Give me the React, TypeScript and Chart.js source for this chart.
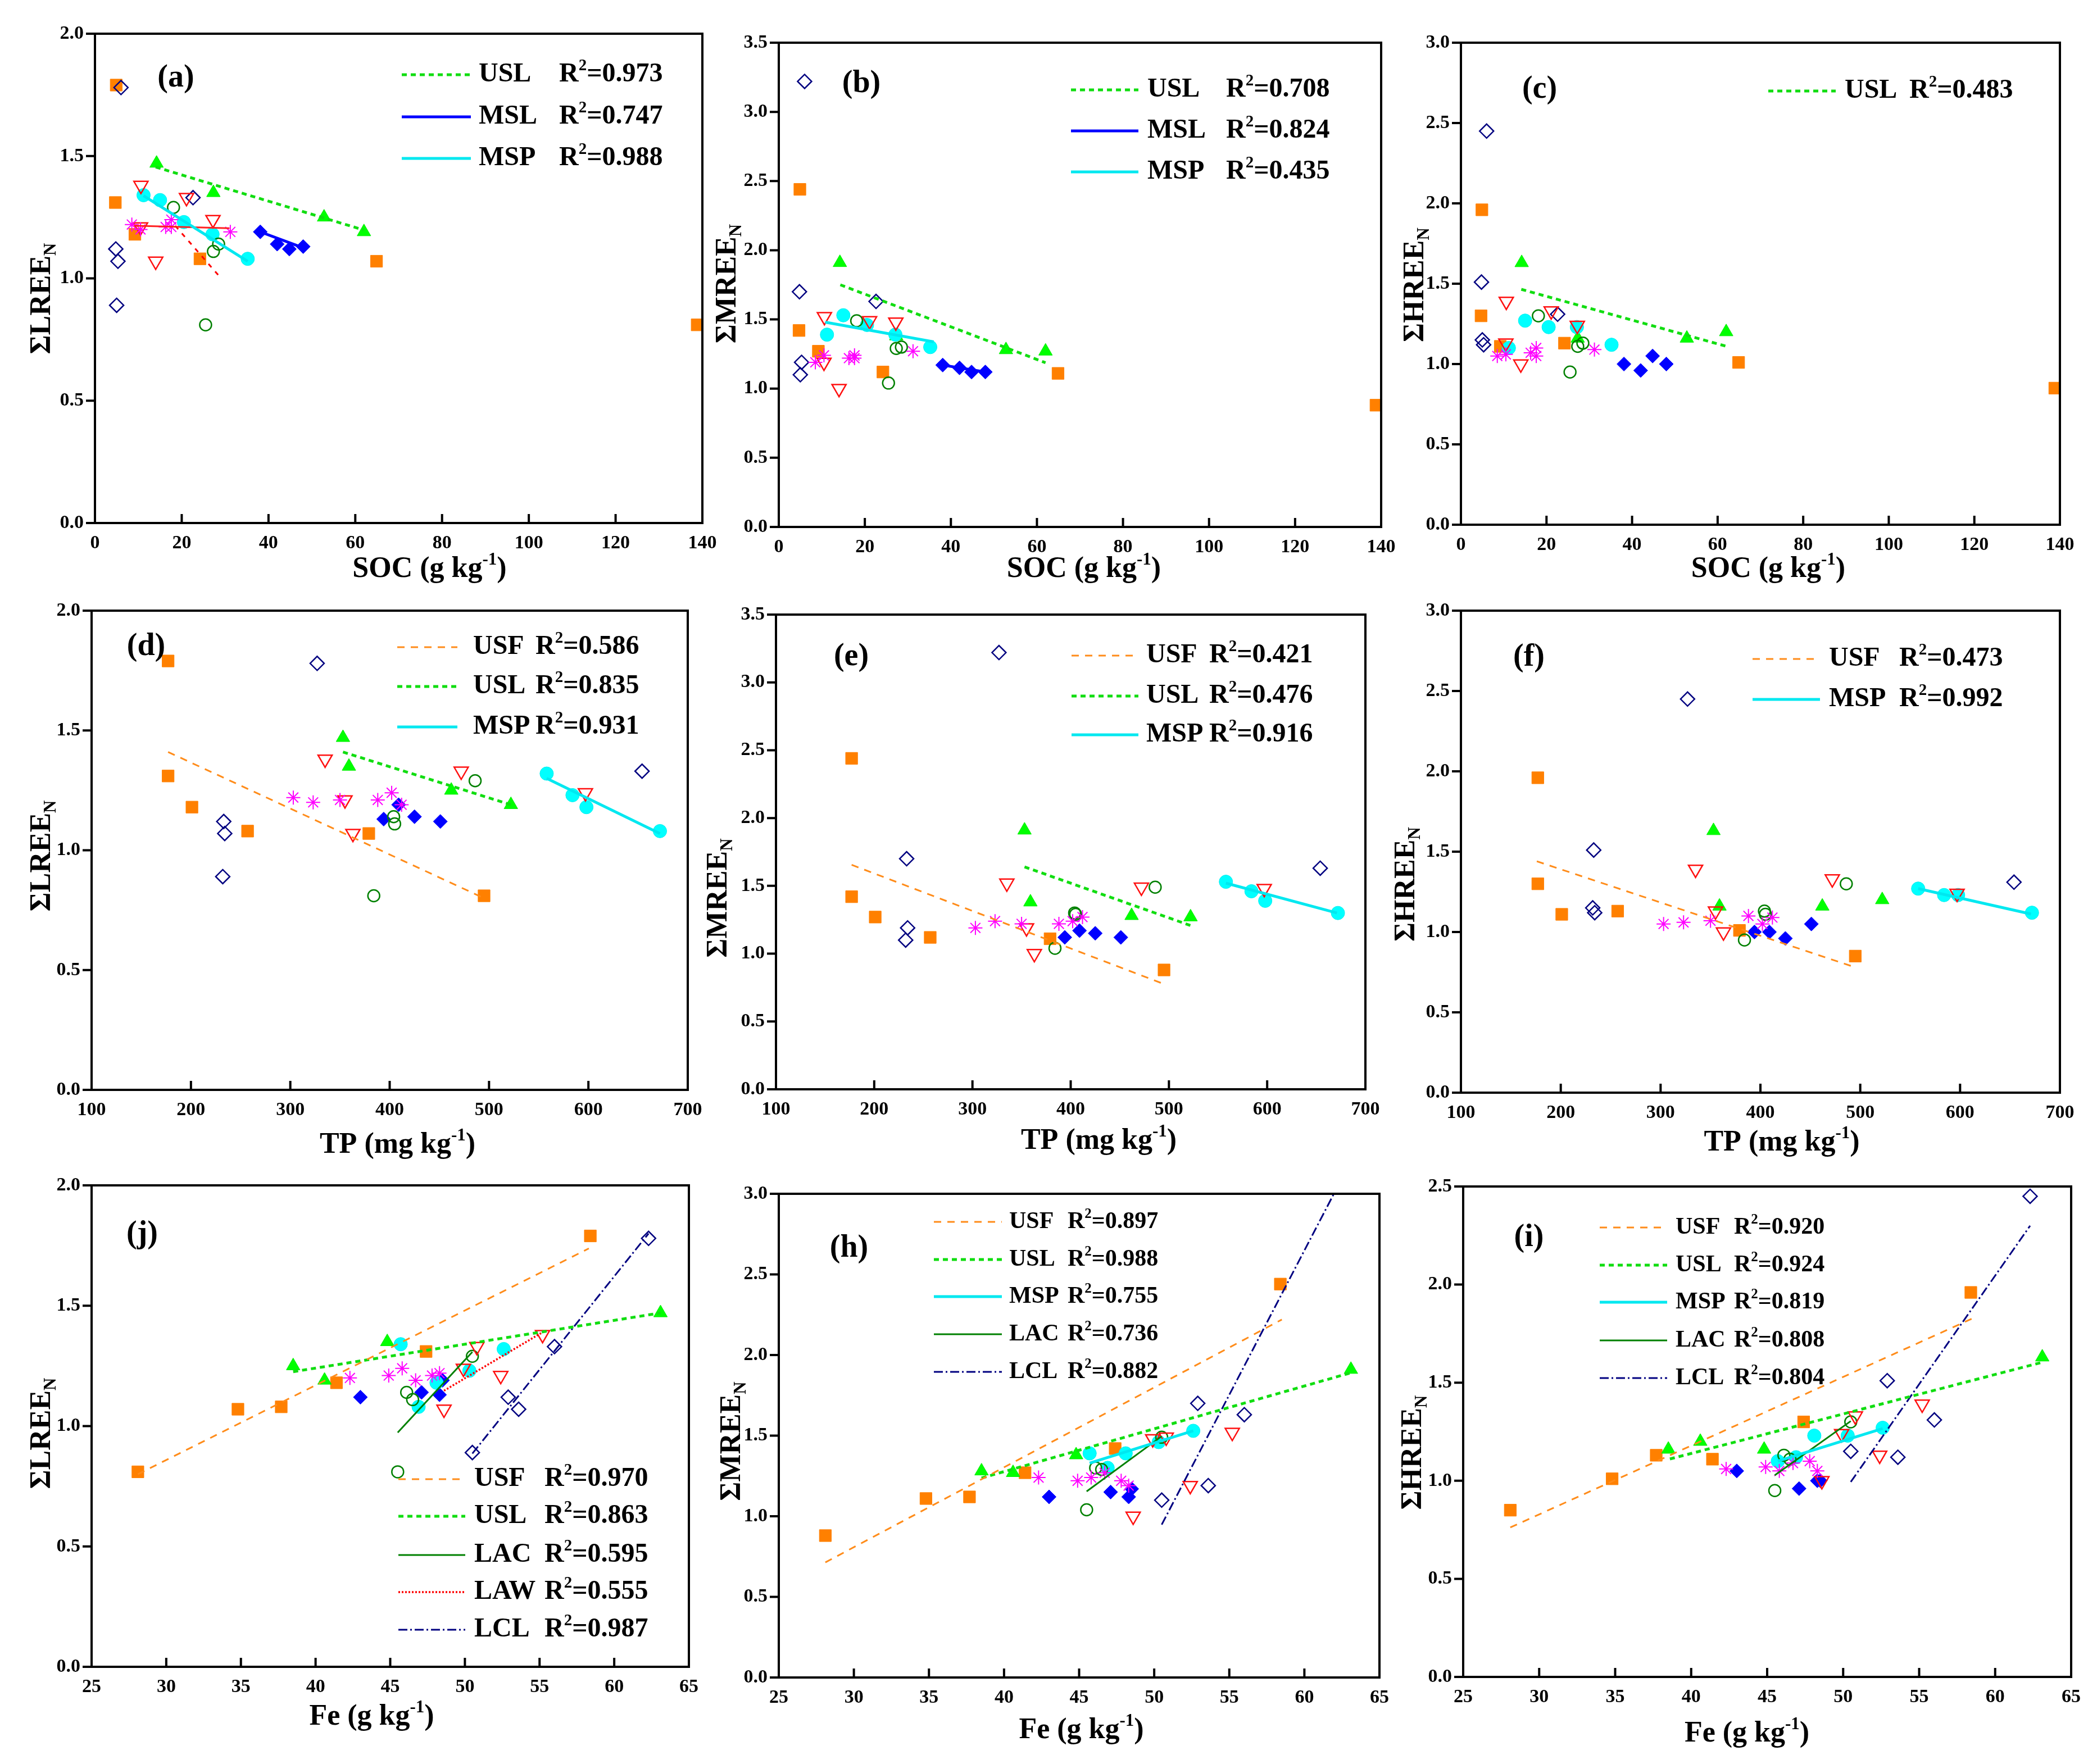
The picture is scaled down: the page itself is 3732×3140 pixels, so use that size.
import React, { useEffect, useRef } from 'react';
import { Chart, registerables } from 'chart.js';

Chart.register(...registerables);

const FAM = '"Liberation Serif", "Times New Roman", serif';

// ---------------- sample data (one entry per sample, shared by all panels) ----------------
// USF
const usfSOC = [4.9, 4.7, 9.2, 24.2, 64.9, 138.8];
const usfTP = [177, 177, 201, 257, 379, 495];
const usfFe = [58.4, 47.4, 41.4, 37.7, 34.8, 28.1];
const usfLREE = [1.79, 1.31, 1.18, 1.08, 1.07, 0.81];
const usfMREE = [2.44, 1.42, 1.27, 1.12, 1.11, 0.88];
const usfHREE = [1.96, 1.3, 1.11, 1.13, 1.01, 0.85];
// USL
const uslSOC = [14.2, 27.3, 52.8, 62.0];
const uslTP = [353, 359, 462, 522];
const uslFe = [63.1, 44.8, 38.5, 40.6];
const uslLREE = [1.47, 1.35, 1.25, 1.19];
const uslMREE = [1.91, 1.38, 1.28, 1.27];
const uslHREE = [1.63, 1.16, 1.16, 1.2];
// MSL
const mslSOC = [38.1, 42.0, 44.8, 48.0];
const mslTP = [409, 425, 451, 394];
const mslFe = [48.5, 47.1, 43.0, 48.3];
const mslLREE = [1.19, 1.14, 1.12, 1.13];
const mslMREE = [1.17, 1.15, 1.12, 1.12];
const mslHREE = [1.0, 0.96, 1.05, 1.0];
// MSP
const mspSOC = [11.2, 15.0, 20.5, 27.1, 35.2];
const mspTP = [null, 558, 584, 598, 672];
const mspFe = [45.7, 52.6, 50.3, 48.1, 46.9];
const mspLREE = [1.34, 1.32, 1.23, 1.18, 1.08];
const mspMREE = [1.39, 1.53, 1.46, 1.39, 1.3];
const mspHREE = [1.1, 1.27, 1.23, 1.23, 1.12];
// LAC
const lacSOC = [18.1, 27.3, 28.5, 25.5];
const lacTP = [486, 405, 404, 384];
const lacFe = [50.5, 46.5, 46.1, 45.5];
const lacLREE = [1.29, 1.11, 1.14, 0.81];
const lacMREE = [1.49, 1.29, 1.3, 1.04];
const lacHREE = [1.3, 1.11, 1.13, 0.95];
// LAW
const lawSOC = [10.6, 10.5, 14.0, 21.1, 27.2];
const lawTP = [335, 355, 363, 472, 597];
const lawFe = [55.2, 52.4, 48.6, 50.8, 49.9];
const lawLREE = [1.38, 1.21, 1.07, 1.33, 1.24];
const lawMREE = [1.52, 1.19, 1.0, 1.49, 1.48];
const lawHREE = [1.39, 1.13, 1.0, 1.33, 1.24];
// LCL
const lclSOC = [6.0, 22.6, 4.8, 5.3, 5.0];
const lclTP = [327, 654, 233, 234, 232];
const lclFe = [62.3, 56.0, 52.9, 53.6, 50.5];
const lclLREE = [1.78, 1.33, 1.12, 1.07, 0.89];
const lclMREE = [3.22, 1.63, 1.7, 1.19, 1.1];
const lclHREE = [2.45, 1.31, 1.51, 1.12, 1.15];
// asterisk group (no fit)
const astSOC = [8.5, 10.5, 16.3, 17.6, 17.6, 31.2];
const astTP = [303, 323, 350, 388, 402, 412];
const astFe = [48.3, 42.3, 44.9, 47.8, 45.8, 46.7];
const astLREE = [1.22, 1.2, 1.21, 1.21, 1.24, 1.19];
const astMREE = [1.19, 1.24, 1.22, 1.22, 1.24, 1.27];
const astHREE = [1.05, 1.06, 1.07, 1.1, 1.05, 1.09];

// ---------------- fitted lines: [group, x1, y1, x2, y2] ----------------
const fitsA = [['USL', 14.0, 1.455, 61.9, 1.198], ['MSL', 38.1, 1.19, 48.0, 1.125], ['MSP', 11.2, 1.338, 35.2, 1.07], ['RED', 9, 1.215, 31, 1.205], ['REDD', 18.5, 1.215, 28.6, 1.01]];
const fitsB = [['USL', 14.3, 1.75, 62.0, 1.187], ['MSL', 38.1, 1.17, 48.1, 1.12], ['MSP', 10.8, 1.48, 36.0, 1.338]];
const fitsC = [['USL', 14.1, 1.465, 62.1, 1.11]];
const fitsD = [['USF', 177, 1.41, 495, 0.8], ['USL', 353, 1.41, 522, 1.19], ['MSP', 558, 1.3, 672, 1.07]];
const fitsE = [['USF', 177, 1.655, 495, 0.776], ['USL', 353, 1.64, 523, 1.205], ['MSP', 558, 1.52, 671, 1.3]];
const fitsF = [['USF', 176, 1.44, 495, 0.78], ['MSP', 558, 1.27, 671, 1.112]];
const fitsJ = [['USF', 28.1, 0.8, 58.3, 1.738], ['USL', 38.5, 1.226, 63.1, 1.47], ['LAC', 45.5, 0.973, 50.5, 1.308], ['LAW', 48.6, 1.147, 55.2, 1.39], ['LCL', 50.5, 0.886, 62.3, 1.8]];
const fitsH = [['USF', 28.1, 0.714, 58.5, 2.22], ['USL', 38.5, 1.237, 63.1, 1.89], ['MSP', 45.7, 1.33, 52.6, 1.53], ['LAC', 45.5, 1.154, 50.5, 1.496], ['LCL', 50.5, 0.948, 62.3, 3.06]];
const fitsI = [['USF', 28.1, 0.762, 58.5, 1.827], ['USL', 38.6, 1.111, 63.1, 1.604], ['MSP', 45.7, 1.1, 52.6, 1.266], ['LAC', 45.5, 1.028, 50.5, 1.304], ['LCL', 50.5, 0.994, 62.3, 2.3]];

// ---------------- legend entries: [group, R2] ----------------
const legendA = [['USL', '0.973'], ['MSL', '0.747'], ['MSP', '0.988']];
const legendB = [['USL', '0.708'], ['MSL', '0.824'], ['MSP', '0.435']];
const legendC = [['USL', '0.483']];
const legendD = [['USF', '0.586'], ['USL', '0.835'], ['MSP', '0.931']];
const legendE = [['USF', '0.421'], ['USL', '0.476'], ['MSP', '0.916']];
const legendF = [['USF', '0.473'], ['MSP', '0.992']];
const legendJ = [['USF', '0.970'], ['USL', '0.863'], ['LAC', '0.595'], ['LAW', '0.555'], ['LCL', '0.987']];
const legendH = [['USF', '0.897'], ['USL', '0.988'], ['MSP', '0.755'], ['LAC', '0.736'], ['LCL', '0.882']];
const legendI = [['USF', '0.920'], ['USL', '0.924'], ['MSP', '0.819'], ['LAC', '0.808'], ['LCL', '0.804']];

const groups = [
  { key: 'AST', soc: astSOC, tp: astTP, fe: astFe, lree: astLREE, mree: astMREE, hree: astHREE },
  { key: 'LAW', soc: lawSOC, tp: lawTP, fe: lawFe, lree: lawLREE, mree: lawMREE, hree: lawHREE },
  { key: 'LCL', soc: lclSOC, tp: lclTP, fe: lclFe, lree: lclLREE, mree: lclMREE, hree: lclHREE },
  { key: 'LAC', soc: lacSOC, tp: lacTP, fe: lacFe, lree: lacLREE, mree: lacMREE, hree: lacHREE },
  { key: 'MSP', soc: mspSOC, tp: mspTP, fe: mspFe, lree: mspLREE, mree: mspMREE, hree: mspHREE },
  { key: 'MSL', soc: mslSOC, tp: mslTP, fe: mslFe, lree: mslLREE, mree: mslMREE, hree: mslHREE },
  { key: 'USL', soc: uslSOC, tp: uslTP, fe: uslFe, lree: uslLREE, mree: uslMREE, hree: uslHREE },
  { key: 'USF', soc: usfSOC, tp: usfTP, fe: usfFe, lree: usfLREE, mree: usfMREE, hree: usfHREE },
];

const markerStyle: any = {
  USF: { style: 'rect', r: 15, rot: 0, fill: '#FF8000', stroke: '#FF8000', bw: 1 },
  USL: { style: 'triangle', r: 14, rot: 0, fill: '#00FF00', stroke: '#00EE00', bw: 1 },
  MSL: { style: 'rectRot', r: 12.5, rot: 0, fill: '#0000FF', stroke: '#0000FF', bw: 1 },
  MSP: { style: 'circle', r: 12, rot: 0, fill: '#00FFFF', stroke: '#00F0F0', bw: 1 },
  LAC: { style: 'circle', r: 10.5, rot: 0, fill: 'rgba(0,0,0,0)', stroke: '#008000', bw: 2.5 },
  LAW: { style: 'triangle', r: 14.5, rot: 180, fill: 'rgba(0,0,0,0)', stroke: '#FF1010', bw: 2.5 },
  LCL: { style: 'rectRot', r: 12.5, rot: 0, fill: 'rgba(0,0,0,0)', stroke: '#000080', bw: 2.5 },
  AST: { style: 'star', r: 12.5, rot: 0, fill: '#FF00FF', stroke: '#FF00FF', bw: 2 },
};

const lineStyle: any = {
  USF: { color: '#FF8C1A', width: 3, dash: [13, 11] },
  USL: { color: '#11DD11', width: 5, dash: [9, 7] },
  MSL: { color: '#0000FF', width: 5, dash: [] },
  MSP: { color: '#00E8F0', width: 5, dash: [] },
  LAC: { color: '#008000', width: 3, dash: [] },
  LAW: { color: '#FF0000', width: 3.5, dash: [3, 3] },
  LCL: { color: '#000080', width: 3, dash: [16, 5, 3, 5] },
  RED: { color: '#FF2020', width: 3, dash: [] },
  REDD: { color: '#FF0000', width: 3, dash: [8, 10] },
};

const soc = [{ t: 'SOC (g kg' }, { t: '-1', sup: true }, { t: ')' }];
const tp = [{ t: 'TP (mg kg' }, { t: '-1', sup: true }, { t: ')' }];
const fe = [{ t: 'Fe (g kg' }, { t: '-1', sup: true }, { t: ')' }];
const yL = [{ t: 'ΣLREE' }, { t: 'N', sub: true }];
const yM = [{ t: 'ΣMREE' }, { t: 'N', sub: true }];
const yH = [{ t: 'ΣHREE' }, { t: 'N', sub: true }];

const panels: any[] = [
  { id: 'a', x: 'soc', y: 'lree', xMin: 0, xMax: 140, xStep: 20, yMax: 2.0, rect: [169, 60, 1250, 931], label: '(a)', labelAt: [144, 80], fits: fitsA, legend: legendA, leg: { x0: 546, x1: 669, tx: 683, rx: 826, rows: [73, 148, 222], size: 48 }, xt: soc, xtd: [55, 83], yt: yL, ytd: [-93, 36] },
  { id: 'b', x: 'soc', y: 'mree', xMin: 0, xMax: 140, xStep: 20, yMax: 3.5, rect: [1386, 76, 2458, 938], label: '(b)', labelAt: [147, 74], fits: fitsB, legend: legendB, leg: { x0: 520, x1: 640, tx: 656, rx: 796, rows: [84, 157, 230], size: 48 }, xt: soc, xtd: [7, 76], yt: yM, ytd: [-90, -2] },
  { id: 'c', x: 'soc', y: 'hree', xMin: 0, xMax: 140, xStep: 20, yMax: 3.0, rect: [2600, 76, 3666, 934], label: '(c)', labelAt: [140, 84], fits: fitsC, legend: legendC, leg: { x0: 547, x1: 667, tx: 683, rx: 798, rows: [86], size: 48 }, xt: soc, xtd: [14, 80], yt: yH, ytd: [-80, 2] },
  { id: 'd', x: 'tp', y: 'lree', xMin: 100, xMax: 700, xStep: 100, yMax: 2.0, rect: [163, 1087, 1224, 1940], label: '(d)', labelAt: [97, 65], fits: fitsD, legend: legendD, leg: { x0: 544, x1: 651, tx: 679, rx: 790, rows: [65, 135, 207], size: 48 }, xt: tp, xtd: [14, 99], yt: yL, ytd: [-87, 10] },
  { id: 'e', x: 'tp', y: 'mree', xMin: 100, xMax: 700, xStep: 100, yMax: 3.5, rect: [1381, 1094, 2430, 1939], label: '(e)', labelAt: [134, 76], fits: fitsE, legend: legendE, leg: { x0: 526, x1: 645, tx: 659, rx: 771, rows: [73, 145, 214], size: 48 }, xt: tp, xtd: [50, 93], yt: yM, ytd: [-101, 82] },
  { id: 'f', x: 'tp', y: 'hree', xMin: 100, xMax: 700, xStep: 100, yMax: 3.0, rect: [2600, 1087, 3666, 1945], label: '(f)', labelAt: [121, 84], fits: fitsF, legend: legendF, leg: { x0: 519, x1: 639, tx: 655, rx: 780, rows: [86, 158], size: 48 }, xt: tp, xtd: [38, 90], yt: yH, ytd: [-96, 58] },
  { id: 'j', x: 'fe', y: 'lree', xMin: 25, xMax: 65, xStep: 5, yMax: 2.0, rect: [163, 2110, 1226, 2967], label: '(j)', labelAt: [90, 88], fits: fitsJ, legend: legendJ, leg: { x0: 546, x1: 665, tx: 681, rx: 806, rows: [523, 589, 658, 724, 791], size: 48 }, xt: fe, xtd: [-33, 90], yt: yL, ytd: [-87, 13] },
  { id: 'h', x: 'fe', y: 'mree', xMin: 25, xMax: 65, xStep: 5, yMax: 3.0, rect: [1386, 2125, 2455, 2986], label: '(h)', labelAt: [125, 98], fits: fitsH, legend: legendH, leg: { x0: 276, x1: 397, tx: 410, rx: 514, rows: [50, 117, 183, 250, 317], size: 42 }, xt: fe, xtd: [4, 95], yt: yM, ytd: [-82, 10] },
  { id: 'i', x: 'fe', y: 'hree', xMin: 25, xMax: 65, xStep: 5, yMax: 2.5, rect: [2604, 2112, 3686, 2985], label: '(i)', labelAt: [117, 92], fits: fitsI, legend: legendI, leg: { x0: 243, x1: 363, tx: 378, rx: 482, rows: [73, 140, 206, 274, 341], size: 42 }, xt: fe, xtd: [-36, 102], yt: yH, ytd: [-88, 37] },
];

const YW = 170, PT = 60, PR = 60, XH = 170;

function drawRich(ctx: CanvasRenderingContext2D, segs: any[], x: number, y: number, size: number, align: string) {
  const fonts = segs.map((s) => `bold ${s.sup || s.sub ? Math.round(size * 0.6) : size}px ${FAM}`);
  let total = 0;
  const ws = segs.map((s, i) => {
    ctx.font = fonts[i];
    const w = ctx.measureText(s.t).width;
    total += w;
    return w;
  });
  let cx = align === 'center' ? x - total / 2 : x;
  ctx.textAlign = 'left';
  ctx.textBaseline = 'middle';
  ctx.fillStyle = '#000';
  segs.forEach((s, i) => {
    ctx.font = fonts[i];
    const dy = s.sup ? -size * 0.32 : s.sub ? size * 0.28 : 0;
    ctx.fillText(s.t, cx, y + dy);
    cx += ws[i];
  });
}

function makeDecor(p: any) {
  return {
    id: 'decor' + p.id,
    afterDraw(chart: any) {
      const ctx = chart.ctx as CanvasRenderingContext2D;
      const { left, top, right, bottom } = chart.chartArea;
      ctx.save();
      ctx.setLineDash([]);
      ctx.strokeStyle = '#000';
      ctx.lineWidth = 4;
      ctx.strokeRect(left, top, right - left, bottom - top);
      const xs = chart.scales.x;
      const ys = chart.scales.y;
      ctx.lineWidth = 4;
      ctx.beginPath();
      xs.ticks.forEach((t: any) => {
        const px = xs.getPixelForValue(t.value);
        ctx.moveTo(px, bottom);
        ctx.lineTo(px, bottom - 16);
      });
      ys.ticks.forEach((t: any) => {
        const py = ys.getPixelForValue(t.value);
        ctx.moveTo(left, py);
        ctx.lineTo(left - 16, py);
      });
      ctx.stroke();

      // axis titles
      drawRich(ctx, p.xt, (left + right) / 2 + p.xtd[0], bottom + p.xtd[1], 52, 'center');
      ctx.save();
      ctx.translate(left + p.ytd[0], (top + bottom) / 2 + p.ytd[1]);
      ctx.rotate(-Math.PI / 2);
      drawRich(ctx, p.yt, 0, 0, 52, 'center');
      ctx.restore();

      // panel label
      drawRich(ctx, [{ t: p.label }], left + p.labelAt[0], top + p.labelAt[1], 56, 'center');

      // legend
      const L = p.leg;
      p.legend.forEach((e: any, i: number) => {
        const st = lineStyle[e[0]];
        const y = top + L.rows[i];
        ctx.save();
        ctx.strokeStyle = st.color;
        ctx.lineWidth = st.width;
        ctx.setLineDash(st.dash);
        ctx.beginPath();
        ctx.moveTo(left + L.x0, y);
        ctx.lineTo(left + L.x1, y);
        ctx.stroke();
        ctx.restore();
        drawRich(ctx, [{ t: e[0] }], left + L.tx, y, L.size, 'left');
        drawRich(ctx, [{ t: 'R' }, { t: '2', sup: true }, { t: '=' + e[1] }], left + L.rx, y, L.size, 'left');
      });
      ctx.restore();
    },
  };
}

function buildConfig(p: any) {
  const datasets: any[] = [];
  p.fits.forEach((f: any) => {
    const st = lineStyle[f[0]];
    datasets.push({
      label: 'fit ' + f[0],
      data: [{ x: f[1], y: f[2] }, { x: f[3], y: f[4] }],
      showLine: true,
      borderColor: st.color,
      borderWidth: st.width,
      borderDash: st.dash,
      pointRadius: 0,
      pointHoverRadius: 0,
      fill: false,
      clip: 0,
    });
  });
  groups.forEach((g: any) => {
    const ms = markerStyle[g.key];
    const xs = g[p.x];
    const yv = g[p.y];
    const data: any[] = [];
    xs.forEach((xv: any, i: number) => {
      if (xv != null && yv[i] != null) data.push({ x: xv, y: yv[i] });
    });
    datasets.push({
      label: g.key,
      data,
      showLine: false,
      pointStyle: ms.style,
      pointRadius: ms.r,
      pointHoverRadius: ms.r,
      pointRotation: ms.rot,
      backgroundColor: ms.fill,
      borderColor: ms.stroke,
      borderWidth: ms.bw,
    });
  });
  const tickFont = { family: FAM, size: 34, weight: 'bold' as const };
  return {
    type: 'scatter' as const,
    data: { datasets },
    options: {
      animation: false as const,
      responsive: false,
      devicePixelRatio: 1,
      events: [],
      layout: { padding: { left: 0, top: PT, right: PR, bottom: 0 } },
      plugins: { legend: { display: false }, tooltip: { enabled: false } },
      scales: {
        x: {
          type: 'linear' as const,
          min: p.xMin,
          max: p.xMax,
          grid: { display: false, drawTicks: false },
          border: { display: false },
          ticks: { stepSize: p.xStep, color: '#000', font: tickFont, padding: 16, maxRotation: 0, autoSkip: false, callback: (v: any) => String(v) },
          afterFit: (s: any) => { s.height = XH; },
        },
        y: {
          type: 'linear' as const,
          min: 0,
          max: p.yMax,
          grid: { display: false, drawTicks: false },
          border: { display: false },
          ticks: { stepSize: 0.5, color: '#000', font: tickFont, padding: 20, autoSkip: false, callback: (v: any) => Number(v).toFixed(1) },
          afterFit: (s: any) => { s.width = YW; },
        },
      },
    },
    plugins: [makeDecor(p)],
  };
}

function Panel({ p }: { p: any }) {
  const ref = useRef<HTMLCanvasElement | null>(null);
  const [L, T, R, B] = p.rect;
  const w = R - L + YW + PR;
  const h = B - T + PT + XH;
  useEffect(() => {
    const chart = new Chart(ref.current as HTMLCanvasElement, buildConfig(p) as any);
    return () => chart.destroy();
  }, []);
  return (
    <canvas
      ref={ref}
      width={w}
      height={h}
      style={{ position: 'absolute', left: L - YW, top: T - PT, width: w, height: h }}
    />
  );
}

export default function App() {
  return (
    <div style={{ position: 'absolute', left: 0, top: 0, width: 3732, height: 3140, background: '#fff', overflow: 'hidden' }}>
      {panels.map((p) => (
        <Panel key={p.id} p={p} />
      ))}
    </div>
  );
}
